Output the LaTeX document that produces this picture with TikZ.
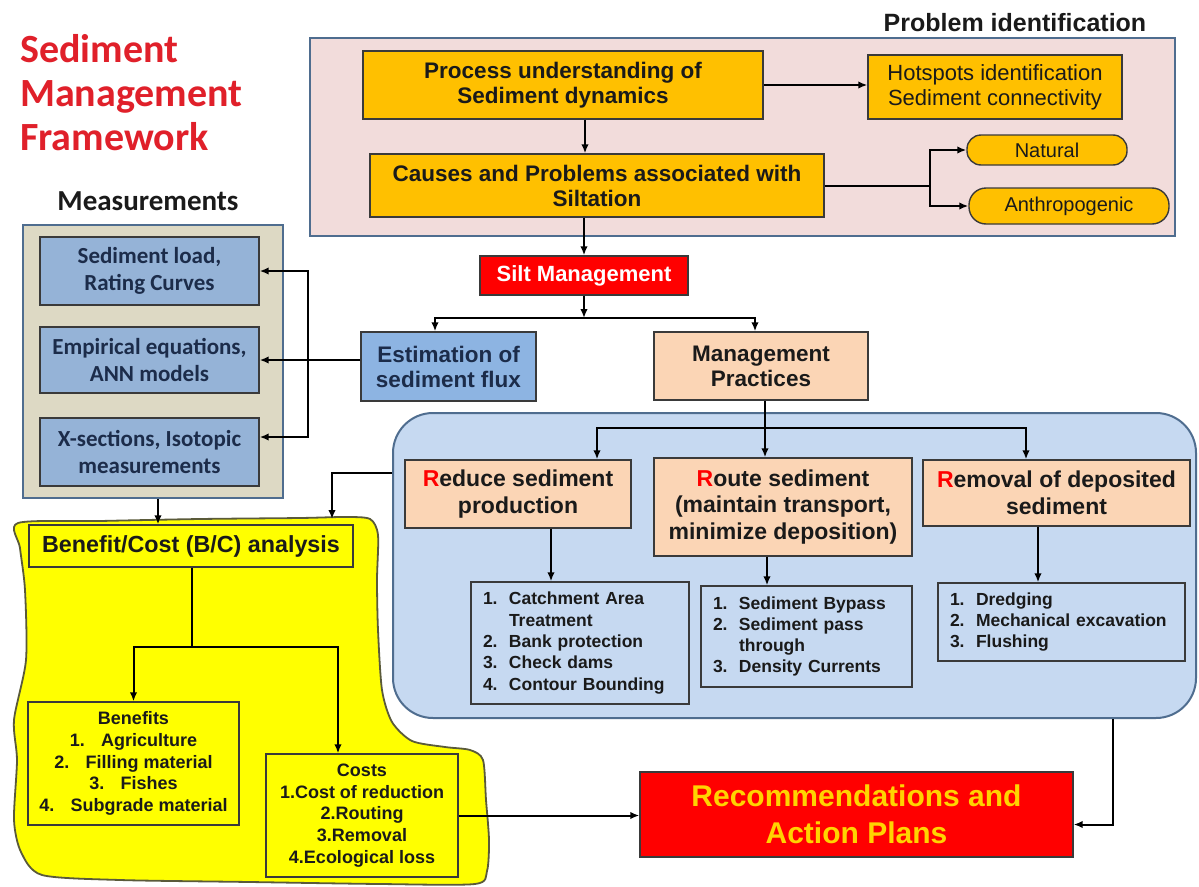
\documentclass[tikz,border=0pt]{standalone}
\usepackage{fontspec}
\setmainfont{Liberation Sans}
\newfontfamily\calfont{Carlito}
\usetikzlibrary{arrows.meta}
\definecolor{pinkfill}{HTML}{F2DCDB}
\definecolor{frame}{HTML}{4F6D8F}
\definecolor{orangefill}{HTML}{FFC000}
\definecolor{boxline}{HTML}{3A3A3A}
\definecolor{estfill}{HTML}{8DB4E2}
\definecolor{measfill}{HTML}{95B3D7}
\definecolor{grayfill}{HTML}{DDD9C4}
\definecolor{peach}{HTML}{FBD5B5}
\definecolor{roundfill}{HTML}{C6D9F1}
\definecolor{blobfill}{HTML}{FFFF00}
\definecolor{blobline}{HTML}{5A5A3A}
\definecolor{redfill}{HTML}{FF0000}
\definecolor{recyellow}{HTML}{FFD400}
\definecolor{titlered}{HTML}{E0202A}
\definecolor{navy}{HTML}{1C2C4A}
\definecolor{txt}{HTML}{1A1A1A}
\newcommand\fsz[2]{\fontsize{#1}{#2}\selectfont}
\newcommand\rr{\textcolor{redfill}{R}}
\begin{document}
\begin{tikzpicture}[x=1pt,y=-1pt,
  box/.style={draw=boxline, line width=1.4pt, inner sep=0pt, align=center, text=txt},
  arr/.style={-{Latex[length=9pt,width=7.5pt]}, line width=2pt, draw=black},
  ln/.style={line width=2pt, draw=black},
  bigb/.style={font=\bfseries\fsz{22.5}{25}},
  listb/.style={box, align=left, font=\bfseries\fsz{17.5}{21.3}, inner xsep=12pt},
  measb/.style={box, fill=measfill, text=navy, font=\calfont\bfseries\fsz{23}{27}}
]
\useasboundingbox (0,0) rectangle (1199,886);
\fill[white] (0,0) rectangle (1199,886);

% title
\node[anchor=base west, inner sep=0pt, font=\calfont\bfseries\fsz{40}{44}, text=titlered] (t1) at (20,62) {Sediment};
\node[anchor=base west, inner sep=0pt, font=\calfont\bfseries\fsz{40}{44}, text=titlered] (t2) at (20,106) {Management};
\node[anchor=base west, inner sep=0pt, font=\calfont\bfseries\fsz{40}{44}, text=titlered] (t3) at (20,150) {Framework};

% problem identification
\node[anchor=base, inner sep=0pt, font=\bfseries\fsz{25}{28}, text=txt] (pid) at (1015,31) {Problem identification};
\node[draw=frame, line width=2pt, fill=pinkfill, minimum width=865pt, minimum height=198pt, inner sep=0pt] (pink) at (742.5,137) {};
\node[box, bigb, fill=orangefill, minimum width=400pt, minimum height=68pt] (proc) at (563,85) {Process understanding of\\Sediment dynamics};
\node[box, fill=orangefill, font=\fsz{22}{25}, minimum width=254pt, minimum height=64pt] (hot) at (995,87) {Hotspots identification\\Sediment connectivity};
\node[box, bigb, fill=orangefill, minimum width=454pt, minimum height=63pt] (causes) at (597,185.5) {Causes and Problems associated with\\Siltation};
\node[box, fill=orangefill, rounded corners=14pt, font=\fsz{20}{22}, minimum width=160pt, minimum height=30pt] (nat) at (1047,150) {Natural};
\node[box, fill=orangefill, rounded corners=17pt, font=\fsz{20}{22}, minimum width=200pt, minimum height=36pt] (anth) at (1069,206) {Anthropogenic};

\draw[arr] (proc.east) -- (proc.east -| hot.west);
\draw[arr] (proc.south -| 585,0) -- (causes.north -| 585,0);
\coordinate (cj) at (930,185.5);
\draw[ln] (causes.east) -- (cj);
\draw[arr] (cj) |- (nat.west);
\draw[arr] (cj) |- (anth.west);

% silt management
\node[box, fill=redfill, text=white, font=\bfseries\fsz{22}{24}, minimum width=208pt, minimum height=39pt] (silt) at (584,275.5) {Silt Management};
\draw[arr] (causes.south -| silt.north) -- (silt.north);

\node[box, fill=estfill, text=navy, font=\bfseries\fsz{22.5}{25}, minimum width=175pt, minimum height=69pt] (est) at (448.5,366.5) {Estimation of\\sediment flux};
\node[box, fill=peach, font=\bfseries\fsz{22.5}{25}, minimum width=214pt, minimum height=68pt] (mgmt) at (761,366) {Management\\Practices};
\coordinate (sj) at (584,318);
\draw[arr] (silt.south) -- (sj);
\draw[arr] (sj) -| (est.north -| 435,0);
\draw[arr] (sj) -| (mgmt.north -| 755,0);

% measurements
\node[anchor=base, inner sep=0pt, font=\calfont\bfseries\fsz{29}{30}, text=txt] (mt) at (148,210) {Measurements};
\node[draw=frame, line width=2pt, fill=grayfill, minimum width=260pt, minimum height=273pt, inner sep=0pt] (meas) at (153,361.5) {};
\node[measb, minimum width=219pt, minimum height=68pt] (m1) at (149.5,271) {Sediment load,\\Rating Curves};
\node[measb, minimum width=219pt, minimum height=66pt] (m2) at (149.5,360) {Empirical equations,\\ANN models};
\node[measb, minimum width=219pt, minimum height=68pt] (m3) at (149.5,452) {X-sections, Isotopic\\measurements};
\draw[arr] (est.west |- m2.east) -- (m2.east);
\coordinate (mj) at (308,360);
\draw[arr] (mj) |- (m1.east);
\draw[arr] (mj) |- ([yshift=15pt]m3.east);

% yellow blob
\filldraw[fill=blobfill, draw=blobline, line width=1.8pt] plot[smooth cycle, tension=0.45] coordinates {
 (18,523) (100,521) (200,519) (300,518) (345,517) (370,519) (378,535) (377,580) (378,630) (382,690)
 (392,722) (412,741) (445,747) (470,750) (483,760) (486,800) (489,840) (487,871) (475,884)
 (380,884) (250,882) (120,880) (42,875) (21,852) (14,820) (17,760) (14,720) (26,660) (25,590) (20,548)};

\node[box, fill=blobfill, font=\bfseries\fsz{23.3}{26}, minimum width=324pt, minimum height=42pt] (bc) at (191,546) {Benefit/Cost (B/C) analysis};
\node[box, fill=blobfill, font=\bfseries\fsz{18}{21.7}, minimum width=211pt, minimum height=123pt] (ben) at (133.5,763.5)
 {Benefits\\1.\hspace{0.9em}Agriculture\\2.\hspace{0.9em}Filling material\\3.\hspace{0.9em}Fishes\\4.\hspace{0.9em}Subgrade material};
\node[box, fill=blobfill, font=\bfseries\fsz{18}{21.7}, minimum width=192pt, minimum height=123pt] (cost) at (362,815.5)
 {Costs\\1.Cost of reduction\\2.Routing\\3.Removal\\4.Ecological loss};
\draw[arr] (meas.south -| 158,0) -- (bc.north -| 158,0);
\coordinate (bj) at (192,647);
\draw[ln] (bc.south -| bj) -- (bj);
\draw[arr] (bj) -| (ben.north);
\draw[arr] (bj) -| (cost.north -| 338,0);

% management practices area
\node[draw=frame, line width=2pt, fill=roundfill, rounded corners=40pt, minimum width=803pt, minimum height=305pt, inner sep=0pt] (rb) at (794.5,565.5) {};
\draw[arr] (rb.west |- 0,473) -| (332,519);

\node[box, fill=peach, font=\bfseries\fsz{23}{26.7}, minimum width=226pt, minimum height=68pt] (red) at (518,494) {\rr educe sediment\\production};
\node[box, fill=peach, font=\bfseries\fsz{23}{26.7}, minimum width=258pt, minimum height=98pt] (route) at (783,507) {\rr oute sediment\\(maintain transport,\\minimize deposition)};
\node[box, fill=peach, font=\bfseries\fsz{23}{26.7}, minimum width=267pt, minimum height=66pt] (rem) at (1056.5,493) {\rr emoval of deposited\\sediment};
\draw[arr] (mgmt.south -| 765,0) -- (route.north -| 765,0);
\coordinate (pj) at (765,428);
\draw[arr] (pj) -| (red.north -| 597,0);
\draw[arr] (pj) -| (rem.north -| 1026,0);

\node[listb, text width=194pt, minimum height=122pt] (l1) at (580,643)
 {\makebox[26pt][l]{1.}Catchment Area\\\hspace*{26pt}Treatment\\\makebox[26pt][l]{2.}Bank protection\\\makebox[26pt][l]{3.}Check dams\\\makebox[26pt][l]{4.}Contour Bounding};
\node[listb, text width=187pt, minimum height=101pt] (l2) at (806.5,636.5)
 {\makebox[26pt][l]{1.}Sediment Bypass\\\makebox[26pt][l]{2.}Sediment pass\\\hspace*{26pt}through\\\makebox[26pt][l]{3.}Density Currents};
\node[listb, text width=223pt, minimum height=78pt] (l3) at (1061.5,622)
 {\makebox[26pt][l]{1.}Dredging\\\makebox[26pt][l]{2.}Mechanical excavation\\\makebox[26pt][l]{3.}Flushing};
\draw[arr] (red.south -| 551,0) -- (l1.north -| 551,0);
\draw[arr] (route.south -| 767,0) -- (l2.north -| 767,0);
\draw[arr] (rem.south -| 1038,0) -- (l3.north -| 1038,0);

% recommendations
\node[box, fill=redfill, text=recyellow, font=\bfseries\fsz{30}{36.7}, minimum width=433pt, minimum height=85pt] (rec) at (856.5,814.5) {Recommendations and\\Action Plans};
\draw[arr] (cost.east) -- (rec.west |- cost.east);
\draw[arr] (rb.south -| 1113,0) |- ([yshift=-10pt]rec.east);
\end{tikzpicture}
\end{document}
